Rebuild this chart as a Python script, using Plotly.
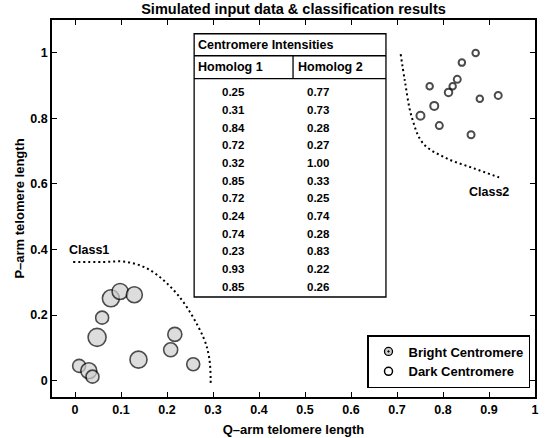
import plotly.graph_objects as go

# ---------------- data ----------------
bright_x = [0.078, 0.098, 0.129, 0.059, 0.048, 0.138, 0.217, 0.208, 0.257, 0.009, 0.030, 0.038]
bright_y = [0.251, 0.272, 0.262, 0.192, 0.132, 0.064, 0.141, 0.094, 0.050, 0.045, 0.030, 0.012]
bright_size = [17, 16, 16, 13, 18, 17, 14, 14, 13, 13, 16, 13]

dark_x = [0.871, 0.841, 0.771, 0.831, 0.821, 0.812, 0.781, 0.880, 0.920, 0.751, 0.792, 0.861]
dark_y = [0.999, 0.970, 0.898, 0.919, 0.898, 0.879, 0.838, 0.860, 0.870, 0.808, 0.778, 0.750]
dark_size = [6.5, 6.5, 6.5, 7, 6.5, 7.5, 8, 6.5, 7, 8, 7, 7]

class1_bx = [-0.004, 0.060, 0.112, 0.163, 0.225, 0.279, 0.292, 0.295]
class1_by = [0.362, 0.362, 0.362, 0.337, 0.259, 0.132, 0.067, -0.014]
class2_bx = [0.708, 0.717, 0.732, 0.757, 0.808, 0.866, 0.922]
class2_by = [0.996, 0.915, 0.804, 0.723, 0.678, 0.648, 0.620]

homolog1 = [0.25, 0.31, 0.84, 0.72, 0.32, 0.85, 0.72, 0.24, 0.74, 0.23, 0.93, 0.85]
homolog2 = [0.77, 0.73, 0.28, 0.27, 1.00, 0.33, 0.25, 0.74, 0.28, 0.83, 0.22, 0.26]

x_ticks = [0, 0.1, 0.2, 0.3, 0.4, 0.5, 0.6, 0.7, 0.8, 0.9, 1]
x_ticklabels = ["0", "0.1", "0.2", "0.3", "0.4", "0.5", "0.6", "0.7", "0.8", "0.9", "1"]
y_ticks = [0, 0.2, 0.4, 0.6, 0.8, 1]
y_ticklabels = ["0", "0.2", "0.4", "0.6", "0.8", "1"]

FONT = "Liberation Sans, Arial, Helvetica, sans-serif"

fig = go.Figure()

# decision boundaries
fig.add_trace(go.Scatter(x=class1_bx, y=class1_by, mode="lines", showlegend=False,
                         line=dict(color="black", width=2, dash="2px,3px", shape="spline")))
fig.add_trace(go.Scatter(x=class2_bx, y=class2_by, mode="lines", showlegend=False,
                         line=dict(color="black", width=2, dash="2px,3px", shape="spline")))

# data points
fig.add_trace(go.Scatter(x=bright_x, y=bright_y, mode="markers", showlegend=False,
                         marker=dict(size=bright_size, color="#cfcfcf",
                                     line=dict(color="black", width=1.6))))
fig.add_trace(go.Scatter(x=dark_x, y=dark_y, mode="markers", showlegend=False,
                         marker=dict(size=dark_size, color="white",
                                     line=dict(color="black", width=2))))

# legend-only entries
fig.add_trace(go.Scatter(x=[None], y=[None], mode="markers", name="<b>Bright Centromere</b>",
                         marker=dict(symbol="circle-dot", size=8, color="#cfcfcf",
                                     line=dict(color="black", width=1.3))))
fig.add_trace(go.Scatter(x=[None], y=[None], mode="markers", name="<b>Dark Centromere</b>",
                         marker=dict(symbol="circle", size=8, color="white",
                                     line=dict(color="black", width=1.5))))

# ---------------- table drawn in data coordinates ----------------
t_left, t_right, t_div = 0.259, 0.676, 0.474
t_top, t_bottom, t_h1, t_h2 = 1.058, 0.255, 0.991, 0.921
line_style = dict(color="black", width=1.3)
fig.add_shape(type="rect", x0=t_left, x1=t_right, y0=t_bottom, y1=t_top,
              xref="x", yref="y", line=line_style, fillcolor="white", layer="above")
fig.add_shape(type="line", x0=t_left, x1=t_right, y0=t_h1, y1=t_h1, xref="x", yref="y",
              line=line_style, layer="above")
fig.add_shape(type="line", x0=t_left, x1=t_right, y0=t_h2, y1=t_h2, xref="x", yref="y",
              line=line_style, layer="above")
fig.add_shape(type="line", x0=t_div, x1=t_div, y0=t_h2, y1=t_h1, xref="x", yref="y",
              line=line_style, layer="above")

tfont = dict(family=FONT, size=12.5, color="black")
fig.add_annotation(x=t_left + 0.004, y=(t_top + t_h1) / 2, text="<b>Centromere Intensities</b>",
                   xref="x", yref="y", showarrow=False, xanchor="left", yanchor="middle", font=tfont)
fig.add_annotation(x=t_left + 0.004, y=(t_h1 + t_h2) / 2, text="<b>Homolog 1</b>",
                   xref="x", yref="y", showarrow=False, xanchor="left", yanchor="middle", font=tfont)
fig.add_annotation(x=t_div + 0.006, y=(t_h1 + t_h2) / 2, text="<b>Homolog 2</b>",
                   xref="x", yref="y", showarrow=False, xanchor="left", yanchor="middle", font=tfont)
row0, drow = 0.879, 0.0539
vfont = dict(family=FONT, size=11.5, color="black")
for i, (a, b) in enumerate(zip(homolog1, homolog2)):
    yy = row0 - i * drow
    fig.add_annotation(x=0.316, y=yy, text="<b>%.2f</b>" % a, xref="x", yref="y",
                       showarrow=False, xanchor="left", yanchor="middle", font=vfont)
    fig.add_annotation(x=0.500, y=yy, text="<b>%.2f</b>" % b, xref="x", yref="y",
                       showarrow=False, xanchor="left", yanchor="middle", font=vfont)

# class labels
fig.add_annotation(x=0.030, y=0.397, text="<b>Class1</b>", xref="x", yref="y", showarrow=False,
                   font=dict(family=FONT, size=12.5, color="black"))
fig.add_annotation(x=0.900, y=0.576, text="<b>Class2</b>", xref="x", yref="y", showarrow=False,
                   font=dict(family=FONT, size=12.5, color="black"))

axis_common = dict(showline=True, linecolor="black", linewidth=1.5, mirror="ticks",
                   ticks="inside", ticklen=5, tickwidth=1.2, tickcolor="black",
                   showgrid=False, zeroline=False, automargin=False,
                   tickfont=dict(family=FONT, size=12.5, color="black"))

fig.update_layout(
    width=545, height=438,
    margin=dict(l=52, r=10, t=20, b=41),
    paper_bgcolor="white", plot_bgcolor="white",
    title=dict(text="<b>Simulated input data & classification results</b>",
               x=(52 + 535) / 2 / 545, xanchor="center", y=1 - 9 / 438, yanchor="middle",
               font=dict(family=FONT, size=14.5, color="black")),
    xaxis=dict(range=[-0.05, 1.0], tickvals=x_ticks,
               ticktext=["<b>%s</b>" % t for t in x_ticklabels],
               title=dict(text="<b>Q\u2013arm telomere length</b>", standoff=9,
                          font=dict(family=FONT, size=13, color="black")),
               **axis_common),
    yaxis=dict(range=[-0.05, 1.1], tickvals=y_ticks,
               ticktext=["<b>%s</b>" % t for t in y_ticklabels],
               title=dict(text="<b>P\u2013arm telomere length</b>", standoff=3,
                          font=dict(family=FONT, size=13, color="black")),
               **axis_common),
    legend=dict(x=(530 - 52) / 483, y=(397 - 361.5) / 377, xanchor="right", yanchor="middle",
                bordercolor="black", borderwidth=1.5, bgcolor="white",
                font=dict(family=FONT, size=13, color="black"),
                tracegroupgap=0),
    showlegend=True,
)

fig.write_html("out.html", config={"displayModeBar": False},
               post_script="document.body.style.margin='0';document.body.style.padding='0';")
